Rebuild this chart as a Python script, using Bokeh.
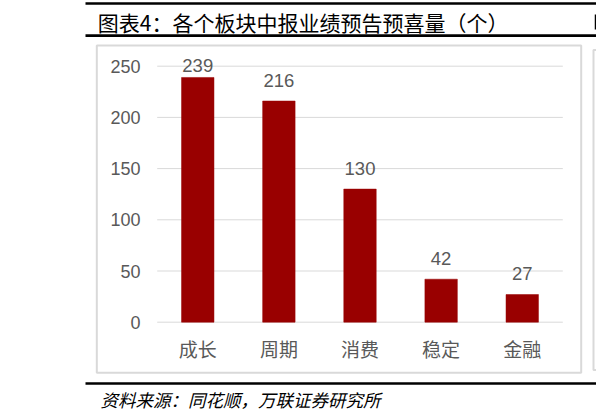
from bokeh.plotting import figure
from bokeh.models import Range1d
from bokeh.core.properties import value
from bokeh.embed import file_html
from bokeh.resources import INLINE

# ---- data ----
categories = ["成长", "周期", "消费", "稳定", "金融"]
counts = [239, 216, 130, 42, 27]
y_ticks = [0, 50, 100, 150, 200, 250]
title_text = "图表4：各个板块中报业绩预告预喜量（个）"
source_text = "资料来源：同花顺，万联证券研究所"

BAR = "#990000"
GRID = "#D9D9D9"
TXT = "#595959"

W, H = 596, 420
# plot-area placement on the canvas (px): category band and value band
PX0, PX1 = 156.7, 562.3
PY_TOP, PY_ZERO = 65.7, 321.7
YMAX = 250
PPX = (PX1 - PX0) / len(categories)
PPY = (PY_ZERO - PY_TOP) / YMAX


def dx(px):
    return (px - PX0) / PPX


def dy(py):
    return (PY_ZERO - py) / PPY


p = figure(width=W, height=H,
           x_range=Range1d(dx(0), dx(W)), y_range=Range1d(dy(H), dy(0)),
           output_backend="svg", toolbar_location=None, title=None,
           x_axis_location=None, y_axis_location=None,
           min_border=0, min_border_left=0, min_border_right=0,
           min_border_top=0, min_border_bottom=0)
p.outline_line_color = None
p.background_fill_color = "white"
p.border_fill_color = "white"
p.xgrid.visible = False
p.ygrid.visible = False

n = len(categories)
xs = [i + 0.5 for i in range(n)]

# chart boxes (this chart and the edge of the neighbouring one)
p.quad(left=[dx(96.3), dx(593)], right=[dx(580.7), dx(640)],
       top=[dy(45), dy(49.5)], bottom=[dy(372.3), dy(369.5)],
       fill_color=None, line_color=GRID, line_width=2)

# gridlines at the value ticks
p.segment(x0=[0] * len(y_ticks), x1=[n] * len(y_ticks), y0=y_ticks, y1=y_ticks,
          line_color=GRID, line_width=1)

# bars
p.vbar(x=xs, top=counts, bottom=0, width=0.4,
       fill_color=BAR, line_color=BAR, line_width=0.5)

# value labels above each bar, kept inside the plot area at the top
label_cap = dy(64.7)
label_y = [min(c + 21 / PPY, label_cap) for c in counts]
p.text(x=xs, y=label_y, text=[str(v) for v in counts],
       text_align="center", text_baseline="alphabetic",
       text_font=value("Liberation Sans"), text_font_size="18.5px",
       text_color=TXT)

# y tick labels
p.text(x=[dx(140)] * len(y_ticks), y=y_ticks, text=[str(t) for t in y_ticks],
       text_align="right", text_baseline="middle",
       text_font=value("Liberation Sans"), text_font_size="18px",
       text_color=TXT)

# category labels
p.text(x=xs, y=[dy(348)] * n, text=categories,
       text_align="center", text_baseline="middle",
       text_font=value("Noto Sans CJK SC"), text_font_size="19px",
       text_color=TXT)

# rules
p.quad(left=[dx(85)] * 3, right=[dx(640)] * 3,
       top=[dy(1.7), dy(33.8), dy(381.7)],
       bottom=[dy(4.3), dy(36.6), dy(384.3)],
       fill_color="black", line_color=None)

# sliver of the neighbouring chart's title at the right edge
p.segment(x0=[dx(595)], x1=[dx(595)], y0=[dy(14)], y1=[dy(29)],
          line_color="black", line_width=1.5)

# title and source
p.text(x=[dx(97.3)], y=[dy(21)], text=[title_text],
       text_align="left", text_baseline="middle",
       text_font=value("Noto Sans CJK SC"), text_font_size="21px",
       text_color="black")
p.text(x=[dx(100)], y=[dy(399)], text=[source_text],
       text_align="left", text_baseline="middle",
       text_font=value("Noto Sans CJK SC"), text_font_size="17.5px",
       text_font_style="italic", text_color="black")

open("out.html", "w").write(file_html(p, INLINE))
